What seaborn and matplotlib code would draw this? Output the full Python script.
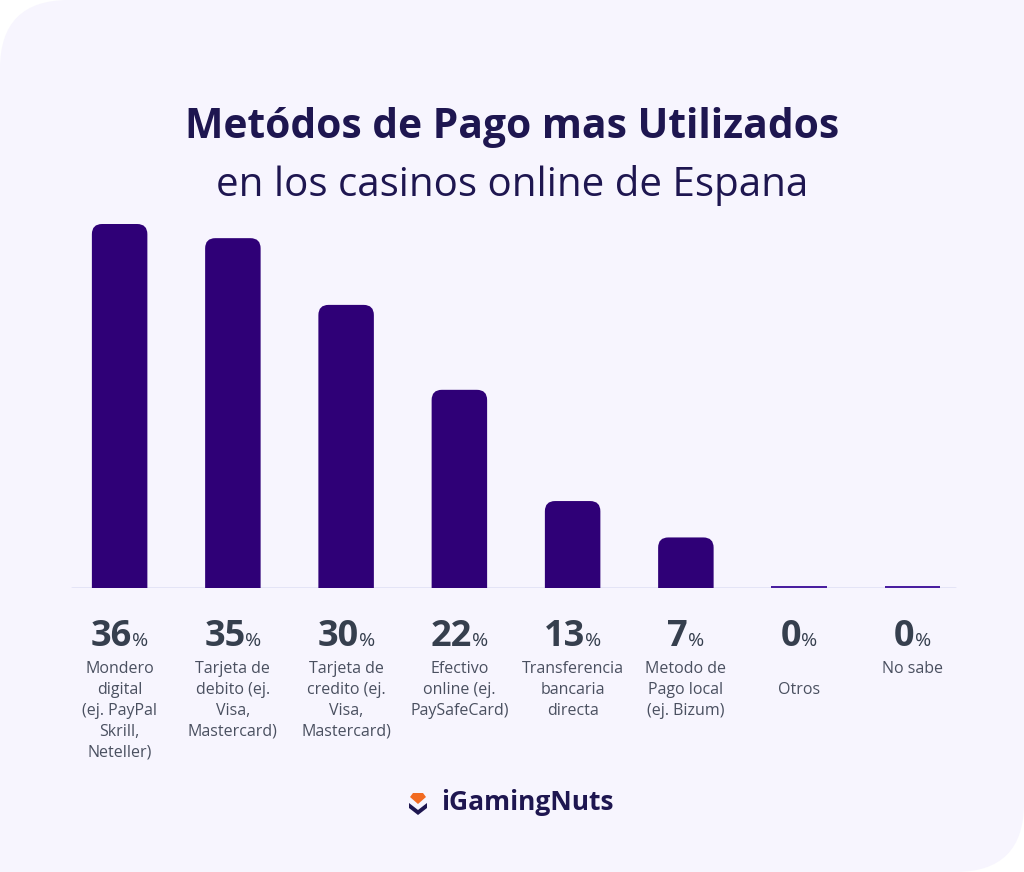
import numpy as np
import pandas as pd
import seaborn as sns
import matplotlib.pyplot as plt
from matplotlib.patches import FancyBboxPatch, Polygon, Rectangle
from matplotlib.offsetbox import TextArea, HPacker, AnnotationBbox

# data
categories = ["Mondero\ndigital\n(ej. PayPal\nSkrill,\nNeteller)",
              "Tarjeta de\ndebito (ej.\nVisa,\nMastercard)",
              "Tarjeta de\ncredito (ej.\nVisa,\nMastercard)",
              "Efectivo\nonline (ej.\nPaySafeCard)",
              "Transferencia\nbancaria\ndirecta",
              "Metodo de\nPago local\n(ej. Bizum)",
              "\nOtros",
              "No sabe"]
bar_heights = [36, 34.6, 28, 19.6, 8.6, 5, 0, 0]
pct_labels = [36, 35, 30, 22, 13, 7, 0, 0]

title = "Metódos de Pago mas Utilizados"
subtitle = "en los casinos online de Espana"
brand = "iGamingNuts"

card_color = "#F7F5FE"
bar_color = "#2F0077"
title_color = "#1E1650"
pct_color = "#363F4E"
cat_color = "#4A5060"

sns.set_theme(style="white")
plt.rcParams['font.family'] = ['Open Sans', 'DejaVu Sans']

df = pd.DataFrame({"cat": categories, "val": bar_heights})

fig = plt.figure(figsize=(10.24, 8.72), dpi=100)
fig.patch.set_facecolor("white")


def px(x, y):
    return (x / 1024, 1 - y / 872)


# card: rounded top-left and bottom-right corners only
card = FancyBboxPatch((0, 0), 1, 1, boxstyle="round,pad=0,rounding_size=0.067",
                      mutation_aspect=1024 / 872, transform=fig.transFigure,
                      facecolor=card_color, edgecolor="none", zorder=-3)
fig.patches.append(card)
fig.patches.append(Rectangle((0.5, 0.5), 0.5, 0.5, transform=fig.transFigure,
                             facecolor=card_color, edgecolor="none", zorder=-3))
fig.patches.append(Rectangle((0, 0), 0.5, 0.5, transform=fig.transFigure,
                             facecolor=card_color, edgecolor="none", zorder=-3))

ax = fig.add_axes([63 / 1024, 284 / 872, 906 / 1024, 364 / 872])
ax.set_facecolor("none")
sns.barplot(data=df, x="cat", y="val", color=bar_color, saturation=1, width=0.49, ax=ax)

# swap plain bars for rounded ones
aspect = (1 / 10.11) / (1 / 113.2)
for p in list(ax.patches):
    x, w, h = p.get_x(), p.get_width(), p.get_height()
    p.remove()
    if h >= 1:
        rb = FancyBboxPatch((x, -2), w, h + 2, boxstyle="round,pad=0,rounding_size=0.09",
                            mutation_aspect=aspect, facecolor=bar_color, edgecolor="none", zorder=3)
    else:
        rb = FancyBboxPatch((x, 0), w, max(h, 0.2), boxstyle="square,pad=0",
                            facecolor="#4A1FA0", edgecolor="none", zorder=3)
    ax.add_patch(rb)

ax.set_xlim(-0.5, 7.5)
ax.set_ylim(0, 36)
ax.axhline(0, xmin=0.01, xmax=0.985, color="#E2E2F6", lw=2, zorder=2)
for s in ax.spines.values():
    s.set_visible(False)
ax.set_xticks([])
ax.set_yticks([])
ax.set_xlabel("")
ax.set_ylabel("")

for i, (pct, cat) in enumerate(zip(pct_labels, categories)):
    num = TextArea(f"{pct}", textprops=dict(fontsize=26, fontweight="bold", color=pct_color))
    sign = TextArea("%", textprops=dict(fontsize=14, color=pct_color))
    box = HPacker(children=[num, sign], align="baseline", pad=0, sep=0)
    ab = AnnotationBbox(box, (i, -0.135), xycoords=("data", "axes fraction"),
                        frameon=False, box_alignment=(0.5, 0.5), annotation_clip=False)
    ax.add_artist(ab)
    ax.text(i, -0.2, cat, transform=ax.get_xaxis_transform(), ha="center", va="top",
            fontsize=11.5, color=cat_color, linespacing=1.42)

fig.text(0.5, 1 - 128 / 872, title, ha="center", va="center", fontsize=29.3,
         fontweight="bold", color=title_color)
fig.text(0.5, 1 - 185 / 872, subtitle, ha="center", va="center", fontsize=29,
         color=title_color)

# brand logo
fig.text(*px(441, 802), brand, ha="left", va="center", fontsize=19,
         fontweight="bold", color=title_color)
gem = Polygon([px(410, 797), px(413, 793), px(423, 793), px(426, 797), px(418, 804)],
              closed=True, facecolor="#F26B21", edgecolor="none", transform=fig.transFigure)
chev = Polygon([px(409, 803), px(418, 810), px(427, 803), px(427, 808), px(418, 815), px(409, 808)],
               closed=True, facecolor=title_color, edgecolor="none", transform=fig.transFigure)
fig.patches.extend([gem, chev])
fig.savefig("out.png", dpi=100, facecolor=fig.get_facecolor())
